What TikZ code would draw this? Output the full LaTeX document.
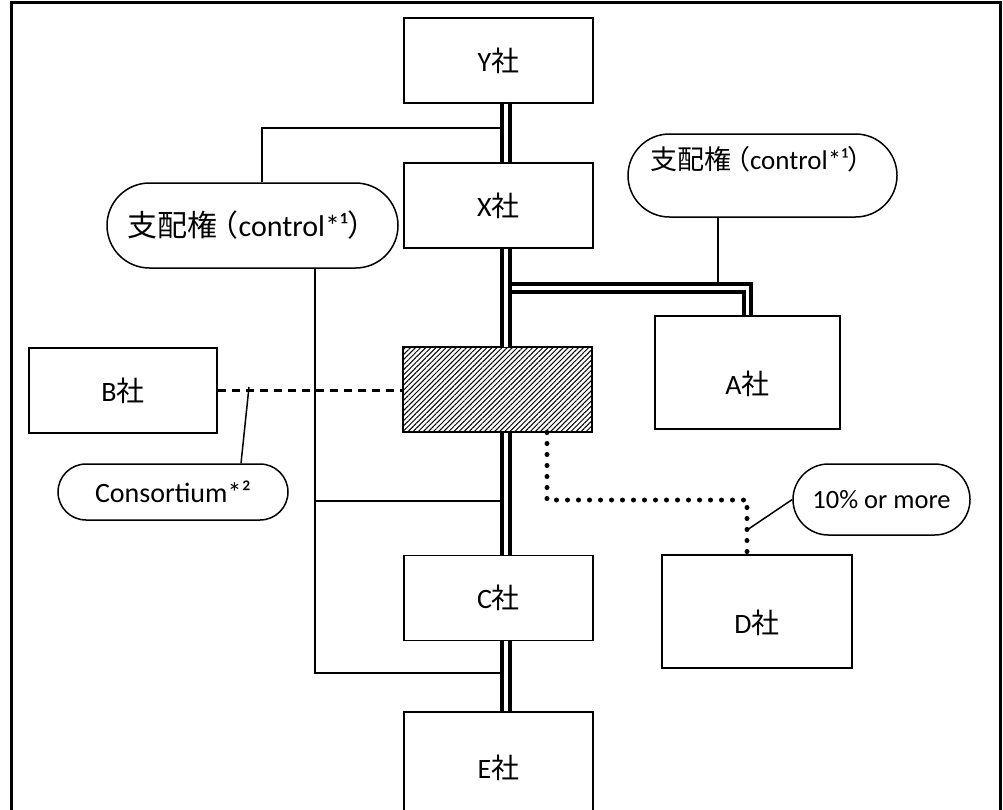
\documentclass[tikz,border=0pt]{standalone}
\usepackage{fontspec}
\setmainfont{Carlito}
\newfontfamily\cjk{Noto Sans CJK JP}
\usetikzlibrary{shapes.misc,patterns.meta}
\tikzstyle{firm}=[rectangle, draw, line width=1.5pt, minimum width=189pt, minimum height=85pt, inner sep=0pt, font=\fontsize{28pt}{33pt}\selectfont]
\tikzstyle{tall}=[minimum height=113pt, text height=50pt, text depth=6pt]
\tikzstyle{note}=[rounded rectangle, draw, line width=1.5pt, inner sep=0pt]
\tikzstyle{own}=[line width=4pt, double, double distance=3.5pt]
\tikzstyle{link}=[line width=1.5pt]
\tikzstyle{dots}=[line width=5pt, line cap=round, dash pattern=on 0pt off 11pt]
\newcommand{\firm}{\node[firm]}
\newcommand{\kaisha}{{\cjk 社}}
\newcommand{\ctltext}{{\cjk 支配権}{\cjk\kern-0.3em（}control*¹{\cjk ）}}

\begin{document}
\begin{tikzpicture}[x=1pt,y=-1pt]
            \useasboundingbox (0,0) rectangle (1003,809);
            \draw[line width=3pt] (11,2) rectangle (1000,840);
            % companies
            \firm (Y) at (498.5,60.5) {Y\kaisha};
            \firm (X) at (498.5,205.5) {X\kaisha};
            \node[firm, pattern={Lines[angle=45,distance=3.6pt,line width=1pt]}] (jv) at (497.5,389.5) {};
            \firm[tall, minimum width=185pt] (A) at (747.5,372.5) {A\kaisha};
            \firm[minimum width=188pt] (B) at (123,390.5) {B\kaisha};
            \firm (C) at (498.5,598) {C\kaisha};
            \firm[tall, minimum width=190pt] (D) at (757,611.5) {D\kaisha};
            \firm[minimum height=112pt] (E) at (498.5,768) {E\kaisha};
            % notes
            \node[note, minimum width=291pt, minimum height=85pt, font=\fontsize{30pt}{35pt}\selectfont] (ctlL) at (252.5,225.5) {\ctltext};
            \node[note, minimum width=269pt, minimum height=83pt, text height=20pt, text depth=32pt, font=\fontsize{27pt}{32pt}\selectfont] (ctlR) at (762.5,175.5) {\ctltext};
            \node[note, minimum width=230pt, minimum height=56pt, font=\fontsize{28pt}{33pt}\selectfont] (cons) at (173,492) {Consortium*²};
            \node[note, minimum width=177pt, minimum height=71pt, font=\fontsize{26.5pt}{31pt}\selectfont] (pct) at (881.5,499.5) {10\% or more};
            % joints
            \coordinate (axis) at (506,0);
            \coordinate (fork) at (512,288);
            \coordinate (topjoin) at (500,128);
            \coordinate (midjoin) at (500,501);
            \coordinate (lowjoin) at (500,673);
            \coordinate (tap) at (262,0);
            \coordinate (leg) at (315,0);
            \coordinate (rtap) at (718,283);
            \coordinate (bjoin) at (249,387);
            \coordinate (ctap) at (241,0);
            \coordinate (dstart) at (547,0);
            \coordinate (dbend) at (747,500);
            \coordinate (dtap) at (747,530);
            % ownership line
            \draw[own] (Y.south -| axis) -- (X.north -| axis);
            \draw[own] (X.south -| axis) -- (jv.north -| axis);
            \draw[own] (jv.south -| axis) -- (C.north -| axis);
            \draw[own] (C.south -| axis) -- (E.north -| axis);
            \draw[own] (fork) -| (A.north);
            % control
            \draw[link] (topjoin) -| (ctlL.north -| tap);
            \draw[link] (ctlL.south -| leg) |- (lowjoin);
            \draw[link] (midjoin -| leg) -- (midjoin);
            \draw[link] (ctlR.south -| rtap) -- (rtap);
            % consortium
            \draw[line width=2.2pt, dash pattern=on 8pt off 6pt] (B.east) -- (B.east -| jv.west);
            \draw[link] (bjoin) -- (cons.north -| ctap);
            % 10%
            \draw[dots] (jv.south -| dstart) |- (dbend) -- (D.north -| dbend);
            \draw[link] (dtap) -- (pct.west);
        \end{tikzpicture}
\end{document}
